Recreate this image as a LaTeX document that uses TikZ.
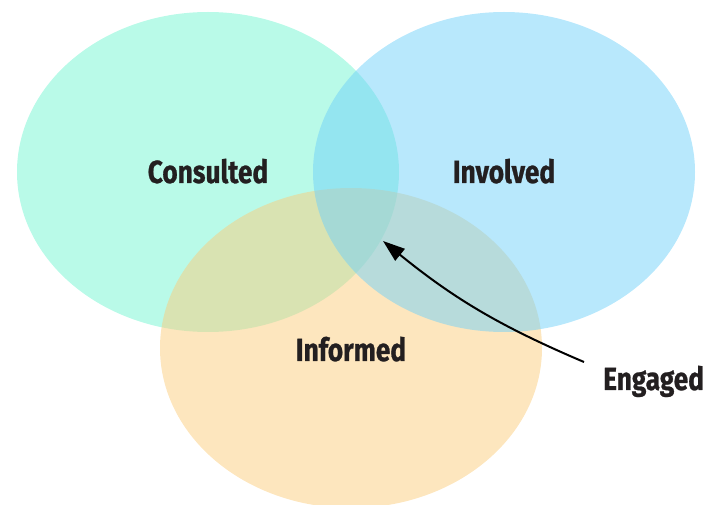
\documentclass[tikz,border=0pt]{standalone}
\usepackage{fontspec}
\setmainfont{Fira Sans}[FakeStretch=0.82,BoldFeatures={FakeBold=0.8}]
\usetikzlibrary{shapes.geometric,arrows.meta}
\definecolor{greenC}{RGB}{115,245,209}
\definecolor{blueC}{RGB}{113,209,249}
\definecolor{orangeC}{RGB}{251,205,125}
\definecolor{inkC}{RGB}{35,31,32}

\begin{document}
\begin{tikzpicture}
  [x=1pt,y=1pt,
   setN/.style={ellipse,minimum width=382pt,minimum height=320pt,inner sep=0pt,fill opacity=0.5},
   labelN/.style={font=\bfseries\fontsize{32}{32}\selectfont,text=inkC,inner sep=0pt,anchor=base}]

  \useasboundingbox (0,0) rectangle (713,504);
  \clip (0,0) rectangle (713,504);

  % the three sets
  \node[setN,fill=greenC]  (cons) at (208,332) {};
  \node[setN,fill=orangeC] (inf)  at (351,156) {};
  \node[setN,fill=blueC]   (inv)  at (504,332) {};

  \node[labelN] (consL) at (208,321) {Consulted};
  \node[labelN] (invL)  at (504,321) {Involved};
  \node[labelN] (infL)  at (351,143) {Informed};
  \node[labelN,anchor=base west] (eng) at (603,114) {Engaged};

  \coordinate (tail) at (584,142);
  \coordinate (core) at (383,263);

  \draw [-{Triangle[length=22pt,width=15pt]},line width=2pt,black] (tail) to[bend left=8] (core);

\end{tikzpicture}
\end{document}
